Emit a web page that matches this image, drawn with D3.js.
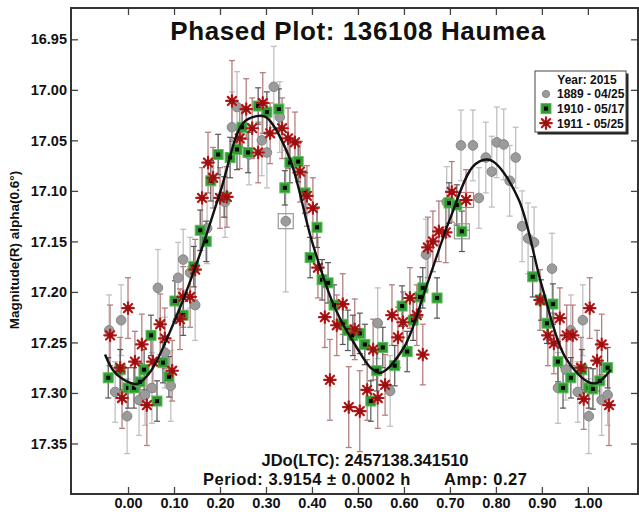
<!DOCTYPE html>
<html>
<head>
<meta charset="utf-8">
<script src="https://cdn.jsdelivr.net/npm/d3@7/dist/d3.min.js"></script>
<style>
  html, body { margin: 0; padding: 0; background: #fff; }
  svg { display: block; }
  text { font-family: "Liberation Sans", Arial, sans-serif; font-weight: bold; fill: #111; }
</style>
</head>
<body>
<svg id="chart" width="639" height="512"></svg>
<script>
// Session 1889 - 04/25 (grey circles)
const s1889Phase = [-0.041,-0.028,-0.015,-0.002,0.024,0.037,0.052,0.065,0.080,0.093,0.109,0.120,0.135,0.146,0.172,0.211,0.226,0.237,0.263,0.291,0.302,0.317,0.330,0.343,0.543,0.570,0.648,0.693,0.724,0.750,0.763,0.778,0.791,0.802,0.817,0.830,0.843,0.857,0.870,0.883,0.922,0.935,0.952,0.963,0.978,0.989,1.002,1.030,1.043];
const s1889Mag = [17.238,17.299,17.228,17.323,17.307,17.302,17.295,17.196,17.260,17.293,17.186,17.168,17.181,17.213,17.137,17.111,17.037,17.017,17.064,17.050,17.062,16.997,17.027,17.130,17.231,17.298,17.163,17.111,17.055,17.055,17.107,17.067,17.081,17.052,17.054,17.090,17.067,17.135,17.147,17.151,17.177,17.295,17.277,17.238,17.299,17.228,17.323,17.307,17.302];
const s1889Err = [0.035,0.030,0.035,0.037,0.035,0.030,0.035,0.038,0.035,0.035,0.035,0.030,0.035,0.035,0.035,0.035,0.035,0.035,0.030,0.035,0.035,0.040,0.035,0.070,0.035,0.035,0.035,0.035,0.035,0.035,0.030,0.035,0.035,0.035,0.035,0.035,0.030,0.035,0.035,0.035,0.035,0.035,0.030,0.035,0.030,0.035,0.037,0.035,0.030];

// Session 1910 - 05/17 (green squares)
const s1910Phase = [-0.043,-0.017,0.000,0.013,0.026,0.035,0.050,0.063,0.076,0.089,0.102,0.120,0.143,0.157,0.170,0.180,0.196,0.209,0.222,0.237,0.248,0.261,0.283,0.302,0.328,0.341,0.352,0.370,0.385,0.396,0.411,0.422,0.435,0.448,0.467,0.478,0.489,0.504,0.515,0.528,0.541,0.554,0.580,0.596,0.607,0.620,0.635,0.641,0.672,0.698,0.715,0.726,0.880,0.898,0.911,0.924,0.935,0.946,0.963,0.987,1.002,1.011,1.026,1.043];
const s1910Mag = [17.285,17.277,17.295,17.295,17.289,17.277,17.243,17.308,17.270,17.284,17.209,17.223,17.175,17.139,17.150,17.090,17.064,17.106,17.067,17.059,17.037,17.062,17.016,17.022,17.019,17.097,17.072,17.071,17.102,17.166,17.136,17.188,17.191,17.213,17.232,17.238,17.243,17.241,17.252,17.308,17.278,17.255,17.273,17.214,17.259,17.228,17.205,17.196,17.206,17.112,17.114,17.140,17.185,17.208,17.231,17.212,17.269,17.295,17.285,17.277,17.295,17.296,17.288,17.275];
const s1910Err = [0.020,0.020,0.020,0.020,0.018,0.020,0.020,0.020,0.020,0.020,0.020,0.020,0.020,0.020,0.020,0.020,0.020,0.020,0.020,0.020,0.020,0.020,0.018,0.020,0.020,0.017,0.020,0.020,0.020,0.020,0.020,0.020,0.020,0.020,0.020,0.020,0.020,0.020,0.020,0.020,0.020,0.020,0.020,0.020,0.020,0.020,0.020,0.020,0.020,0.020,0.020,0.020,0.020,0.020,0.020,0.020,0.020,0.020,0.020,0.020,0.020,0.020,0.018,0.020];

// Session 1911 - 05/25 (red stars)
const s1911Phase = [-0.039,-0.017,-0.013,0.000,0.015,0.030,0.041,0.054,0.070,0.080,0.096,0.113,0.120,0.135,0.146,0.161,0.174,0.185,0.200,0.215,0.226,0.243,0.257,0.270,0.283,0.293,0.309,0.335,0.348,0.363,0.374,0.389,0.402,0.413,0.428,0.439,0.454,0.467,0.480,0.493,0.504,0.520,0.533,0.543,0.559,0.574,0.587,0.598,0.613,0.628,0.641,0.652,0.663,0.676,0.691,0.704,0.735,0.896,0.913,0.926,0.939,0.954,0.967,0.985,0.991,1.004,1.020,1.030,1.046];
const s1911Mag = [17.243,17.275,17.305,17.216,17.269,17.252,17.312,17.269,17.232,17.246,17.278,17.227,17.205,17.205,17.178,17.107,17.072,17.087,17.107,17.106,17.011,17.048,17.019,17.038,17.062,17.013,17.043,17.038,17.048,17.052,17.081,17.105,17.117,17.176,17.225,17.287,17.233,17.212,17.314,17.237,17.318,17.297,17.257,17.305,17.292,17.223,17.245,17.230,17.206,17.223,17.262,17.156,17.150,17.140,17.141,17.101,17.109,17.208,17.243,17.251,17.226,17.243,17.243,17.275,17.306,17.216,17.268,17.252,17.312];
const s1911Err = [0.030,0.030,0.030,0.030,0.030,0.030,0.040,0.030,0.030,0.030,0.030,0.030,0.030,0.030,0.030,0.030,0.030,0.030,0.030,0.030,0.040,0.030,0.030,0.030,0.030,0.030,0.030,0.030,0.030,0.030,0.030,0.030,0.030,0.030,0.030,0.040,0.030,0.030,0.040,0.030,0.040,0.030,0.030,0.030,0.030,0.030,0.030,0.030,0.030,0.030,0.030,0.030,0.030,0.030,0.030,0.030,0.030,0.030,0.030,0.030,0.030,0.030,0.030,0.030,0.030,0.030,0.030,0.030,0.040];

// Fourier fit of the light curve, sampled along phase
const fitPhase = [-0.05,-0.03,0.00,0.02,0.05,0.10,0.15,0.20,0.25,0.28,0.30,0.35,0.40,0.45,0.50,0.53,0.55,0.60,0.65,0.70,0.75,0.78,0.80,0.85,0.90,0.95,1.00,1.02,1.05];
const fitMag = [17.262,17.279,17.289,17.291,17.278,17.230,17.171,17.102,17.033,17.026,17.027,17.066,17.150,17.216,17.257,17.276,17.280,17.255,17.193,17.128,17.076,17.069,17.073,17.109,17.194,17.264,17.289,17.290,17.277];

// Observations flagged with a box
const flagged1889 = [0.343];
const flagged1910 = [0.726];
const flagged1911 = [0.735];

const xTicks = [0.0,0.1,0.2,0.3,0.4,0.5,0.6,0.7,0.8,0.9,1.0];
const yTicks = [16.95,17.00,17.05,17.10,17.15,17.20,17.25,17.30,17.35];

const titleText = "Phased Plot: 136108 Haumea";
const yLabel = "Magnitude(R) alpha(0.6\u00b0)";
const epochText = "JDo(LTC): 2457138.341510";
const periodText = "Period: 3.9154 \u00b1 0.0002 h";
const ampText = "Amp: 0.27";
const legendTitle = "Year: 2015";
const legendLabels = ["1889 - 04/25", "1910 - 05/17", "1911 - 05/25"];

const svg = d3.select("#chart");
const L = 71, R = 638, T = 8, B = 494;

const x = d3.scaleLinear().domain([-0.124, 1.109]).range([L, R]);
const y = d3.scaleLinear().domain([16.919, 17.400]).range([T, B]);

// Axes (ticks point inward)
const fmt = d3.format(".2f");
const axB = svg.append("g").attr("transform", `translate(0,${B})`)
  .call(d3.axisBottom(x).tickValues(xTicks).tickSize(-7).tickPadding(4).tickFormat(fmt));
const axT = svg.append("g").attr("transform", `translate(0,${T})`)
  .call(d3.axisTop(x).tickValues(xTicks).tickSize(-7).tickFormat(""));
const axL = svg.append("g").attr("transform", `translate(${L},0)`)
  .call(d3.axisLeft(y).tickValues(yTicks).tickSize(-7).tickPadding(4).tickFormat(fmt));
const axR = svg.append("g").attr("transform", `translate(${R},0)`)
  .call(d3.axisRight(y).tickValues(yTicks).tickSize(-7).tickFormat(""));
[axB, axT, axL, axR].forEach(g => {
  g.select(".domain").remove();
  g.selectAll(".tick line").attr("stroke", "#444").attr("stroke-width", 1.3);
  g.selectAll(".tick text").attr("font-size", 14.5).attr("font-family", "Liberation Sans, Arial, sans-serif").attr("font-weight", "bold").attr("fill", "#111");
});

// Frame
svg.append("rect").attr("x", L).attr("y", T).attr("width", R - L).attr("height", B - T)
  .attr("fill", "none").attr("stroke", "#333").attr("stroke-width", 2);

const plot = svg.append("g");

function series(phase, mag, err) {
  return phase.map((p, i) => ({ p, m: mag[i], e: err[i] }));
}

function errorBars(data, color, width) {
  const g = plot.append("g").attr("stroke", color).attr("stroke-width", width).attr("fill", "none");
  data.forEach(d => {
    const cx = x(d.p), y0 = y(d.m - d.e), y1 = y(d.m + d.e);
    g.append("line").attr("x1", cx).attr("x2", cx).attr("y1", y0).attr("y2", y1);
    g.append("line").attr("x1", cx - 3).attr("x2", cx + 3).attr("y1", y0).attr("y2", y0);
    g.append("line").attr("x1", cx - 3).attr("x2", cx + 3).attr("y1", y1).attr("y2", y1);
  });
}

function flagBoxes(data, flags, color) {
  data.filter(d => flags.includes(d.p)).forEach(d => {
    plot.append("rect").attr("x", x(d.p) - 7.5).attr("y", y(d.m) - 7.5)
      .attr("width", 15).attr("height", 15).attr("fill", "none")
      .attr("stroke", color).attr("stroke-width", 1.2);
  });
}

function circleMark(g, cx, cy, r = 4.8) {
  g.append("circle").attr("cx", cx).attr("cy", cy).attr("r", r)
    .attr("fill", "#9b9b9b").attr("stroke", "#858585").attr("stroke-width", 1);
}
function squareMark(g, cx, cy) {
  g.append("rect").attr("x", cx - 5).attr("y", cy - 5).attr("width", 10).attr("height", 10)
    .attr("fill", "#2f9a2f").attr("stroke", "#5bbb5b").attr("stroke-width", 1);
  g.append("rect").attr("x", cx - 2).attr("y", cy - 2).attr("width", 4).attr("height", 4).attr("fill", "#000");
}
function starMark(g, cx, cy) {
  const r = 5.8;
  const s = g.append("g").attr("stroke", "#b01818").attr("stroke-width", 2.2).attr("stroke-linecap", "round");
  [0, 45, 90, 135].forEach(a => {
    const t = a * Math.PI / 180;
    s.append("line").attr("x1", cx - r * Math.cos(t)).attr("y1", cy - r * Math.sin(t))
      .attr("x2", cx + r * Math.cos(t)).attr("y2", cy + r * Math.sin(t));
  });
  g.append("circle").attr("cx", cx).attr("cy", cy).attr("r", 2.8).attr("fill", "#9a1010");
}

const d1889 = series(s1889Phase, s1889Mag, s1889Err);
const d1910 = series(s1910Phase, s1910Mag, s1910Err);
const d1911 = series(s1911Phase, s1911Mag, s1911Err);

errorBars(d1889, "#c0c0c0", 1.3);
errorBars(d1911, "#b58080", 1.3);
errorBars(d1910, "#555", 1.2);

flagBoxes(d1889, flagged1889, "#999");
flagBoxes(d1910, flagged1910, "#999");
flagBoxes(d1911, flagged1911, "#c77");

const g1889 = plot.append("g");
d1889.forEach(d => circleMark(g1889, x(d.p), y(d.m)));
const g1910 = plot.append("g");
d1910.forEach(d => squareMark(g1910, x(d.p), y(d.m)));
const g1911 = plot.append("g");
d1911.forEach(d => starMark(g1911, x(d.p), y(d.m)));

// Fitted curve
const fit = fitPhase.map((p, i) => [p, fitMag[i]]);
plot.append("path").datum(fit)
  .attr("fill", "none").attr("stroke", "#111").attr("stroke-width", 2.4)
  .attr("d", d3.line().x(d => x(d[0])).y(d => y(d[1])).curve(d3.curveCatmullRom.alpha(0.5)));

// Title
svg.append("text").attr("x", 358).attr("y", 40).attr("text-anchor", "middle")
  .attr("font-size", 26).attr("letter-spacing", 0.6).text(titleText);

// Y axis label
svg.append("text").attr("transform", "translate(19,250) rotate(-90)")
  .attr("text-anchor", "middle").attr("font-size", 13.5).text(yLabel);

// Fit summary
svg.append("text").attr("x", 365).attr("y", 466).attr("text-anchor", "middle")
  .attr("font-size", 16.5).text(epochText);
svg.append("text").attr("x", 203).attr("y", 485).attr("font-size", 16.5).attr("letter-spacing", 0.5).text(periodText);
svg.append("text").attr("x", 444).attr("y", 485).attr("font-size", 16.5).attr("letter-spacing", 0.5).text(ampText);

// Legend
const lg = svg.append("g").attr("transform", "translate(535,71)");
lg.append("rect").attr("x", 2.5).attr("y", 2.5).attr("width", 91).attr("height", 61).attr("fill", "#222");
lg.append("rect").attr("x", 0).attr("y", 0).attr("width", 91).attr("height", 61)
  .attr("fill", "#fff").attr("stroke", "#444").attr("stroke-width", 1);
lg.append("text").attr("x", 52).attr("y", 12.5).attr("text-anchor", "middle").attr("font-size", 12).text(legendTitle);
const marks = [circleMark, squareMark, starMark];
legendLabels.forEach((lab, i) => {
  const cy = 23 + i * 14.6;
  if (i === 0) circleMark(lg, 11, cy, 3.6);
  else marks[i](lg, 11, cy);
  lg.append("text").attr("x", 22).attr("y", cy + 4.3).attr("font-size", 12).text(lab);
});
</script>
</body>
</html>
